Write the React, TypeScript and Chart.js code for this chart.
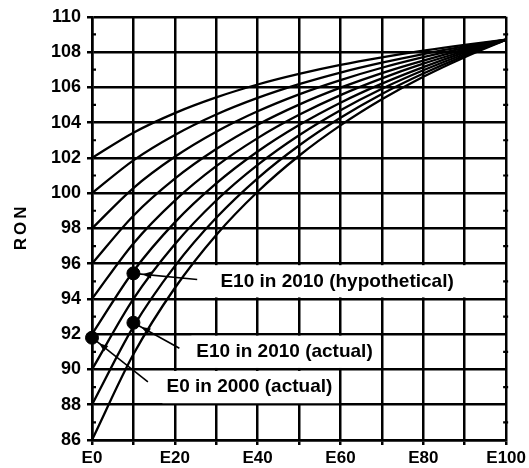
import React, { useEffect, useRef } from "react";
import { Chart, registerables } from "chart.js";

Chart.register(...registerables);

// Ethanol content (vol %) – x categories
const ethanolPct = [0, 10, 20, 30, 40, 50, 60, 70, 80, 90, 100];

// RON curves, one per base-gasoline RON
const ron86 = [86, 90.86, 94.62, 97.63, 100.08, 102.12, 103.84, 105.32, 106.6, 107.71, 108.7];
const ron88 = [88, 92.43, 95.86, 98.6, 100.84, 102.7, 104.27, 105.62, 106.78, 107.8, 108.7];
const ron90 = [90, 94.0, 97.1, 99.58, 101.6, 103.28, 104.7, 105.92, 106.97, 107.89, 108.7];
const ron92 = [92, 95.57, 98.34, 100.55, 102.36, 103.86, 105.13, 106.21, 107.15, 107.98, 108.7];
const ron94 = [94, 97.15, 99.58, 101.53, 103.12, 104.44, 105.56, 106.51, 107.34, 108.06, 108.7];
const ron96 = [96, 98.72, 100.82, 102.5, 103.88, 105.02, 105.98, 106.81, 107.52, 108.15, 108.7];
const ron98 = [98, 100.29, 102.06, 103.48, 104.64, 105.6, 106.41, 107.11, 107.71, 108.24, 108.7];
const ron100 = [100, 101.86, 103.3, 104.46, 105.4, 106.18, 106.84, 107.4, 107.89, 108.32, 108.7];
const ron102 = [102, 103.43, 104.54, 105.43, 106.16, 106.76, 107.27, 107.7, 108.08, 108.41, 108.7];

const curves = [ron86, ron88, ron90, ron92, ron94, ron96, ron98, ron100, ron102];

// Marked points
const markerE = [0, 10, 10];
const markerRON = [91.8, 95.45, 92.65];
const markerLabels = ["E0 in 2000 (actual)", "E10 in 2010 (hypothetical)", "E10 in 2010 (actual)"];

const yAxisTitle = "RON";

// Annotation placement (in data units)
const noteTextE = [18, 31, 25.2];
const noteTextRON = [89.0, 95.0, 91.0];
const noteLeadE = [13.5, 25.4, 21.1];
const noteLeadRON = [89.3, 95.1, 91.2];
const noteBoxFromE = [17, 28.5, 24];
const noteBoxToE = [59.6, 99.6, 69.6];
const noteBoxLowRON = [88, 94, 90];
const noteBoxHighRON = [90, 96, 92];

const FONT = "'Liberation Sans', Arial, sans-serif";

const notesPlugin = {
  id: "notes",
  beforeDatasetsDraw(chart: any) {
    const { ctx, scales, chartArea } = chart;
    const x = scales.x;
    const y = scales.y;
    ctx.save();
    // white label backgrounds hiding the vertical grid lines
    ctx.fillStyle = "#ffffff";
    for (let i = 0; i < markerLabels.length; i++) {
      const x0 = x.getPixelForValue(noteBoxFromE[i]);
      const x1 = x.getPixelForValue(noteBoxToE[i]);
      const yTop = y.getPixelForValue(noteBoxHighRON[i]) + 1.5;
      const yBot = y.getPixelForValue(noteBoxLowRON[i]) - 1.5;
      ctx.fillRect(x0, yTop, x1 - x0, yBot - yTop);
    }
    // minor ticks at odd RON values
    ctx.strokeStyle = "#000";
    ctx.lineWidth = 2.2;
    for (let v = 87; v < 110; v += 2) {
      const py = y.getPixelForValue(v);
      ctx.beginPath();
      ctx.moveTo(chartArea.left, py);
      ctx.lineTo(chartArea.left + 4, py);
      ctx.moveTo(chartArea.right - 3, py);
      ctx.lineTo(chartArea.right + 2, py);
      ctx.stroke();
    }
    // rotated y axis title with wide letter spacing
    ctx.save();
    ctx.translate(21.5, (chartArea.top + chartArea.bottom) / 2);
    ctx.rotate(-Math.PI / 2);
    ctx.font = `bold 17px ${FONT}`;
    try {
      (ctx as any).letterSpacing = "3px";
    } catch (e) {}
    ctx.fillStyle = "#000";
    ctx.textAlign = "center";
    ctx.textBaseline = "middle";
    ctx.fillText(yAxisTitle, 1.5, 0);
    ctx.restore();
    ctx.restore();
  },
  afterDatasetsDraw(chart: any) {
    const { ctx, scales } = chart;
    const x = scales.x;
    const y = scales.y;
    ctx.save();
    ctx.strokeStyle = "#000";
    ctx.fillStyle = "#000";
    ctx.lineWidth = 1.6;
    for (let i = 0; i < markerLabels.length; i++) {
      const sx = x.getPixelForValue(markerE[i]);
      const sy = y.getPixelForValue(markerRON[i]);
      const ex = x.getPixelForValue(noteLeadE[i]);
      const ey = y.getPixelForValue(noteLeadRON[i]);
      ctx.beginPath();
      ctx.moveTo(sx, sy);
      ctx.lineTo(ex, ey);
      ctx.stroke();
      // small arrow head pointing at the dot
      const ang = Math.atan2(sy - ey, sx - ex);
      const d = Math.hypot(sx - ex, sy - ey);
      const tipX = sx - Math.cos(ang) * 9;
      const tipY = sy - Math.sin(ang) * 9;
      const baseX = tipX - Math.cos(ang) * 9;
      const baseY = tipY - Math.sin(ang) * 9;
      if (d > 20) {
        ctx.beginPath();
        ctx.moveTo(tipX, tipY);
        ctx.lineTo(baseX + Math.sin(ang) * 3.5, baseY - Math.cos(ang) * 3.5);
        ctx.lineTo(baseX - Math.sin(ang) * 3.5, baseY + Math.cos(ang) * 3.5);
        ctx.closePath();
        ctx.fill();
      }
      ctx.font = `bold 19px ${FONT}`;
      ctx.textAlign = "left";
      ctx.textBaseline = "middle";
      ctx.fillText(markerLabels[i], x.getPixelForValue(noteTextE[i]), y.getPixelForValue(noteTextRON[i]));
    }
    ctx.restore();
  },
};

export default function App() {
  const ref = useRef<HTMLCanvasElement | null>(null);
  useEffect(() => {
    if (!ref.current) return;
    const datasets: any[] = curves.map((c) => ({
      type: "line",
      data: ethanolPct.map((e, i) => ({ x: e, y: c[i] })),
      borderColor: "#000",
      borderWidth: 2.3,
      pointRadius: 0,
      cubicInterpolationMode: "monotone",
      fill: false,
    }));
    datasets.push({
      type: "scatter",
      data: markerE.map((e, i) => ({ x: e, y: markerRON[i] })),
      backgroundColor: "#000",
      borderColor: "#000",
      pointRadius: 6.5,
      pointHoverRadius: 6.5,
      clip: false,
    });
    const chart = new Chart(ref.current, {
      type: "line",
      data: { datasets },
      plugins: [notesPlugin],
      options: {
        animation: false,
        responsive: false,
        events: [],
        layout: { padding: { top: 16, right: 19, left: 0, bottom: 0 } },
        plugins: { legend: { display: false }, tooltip: { enabled: false } },
        scales: {
          x: {
            type: "linear",
            min: 0,
            max: 100,
            afterFit: (s: any) => {
              s.height = 28;
            },
            ticks: {
              stepSize: 10,
              autoSkip: false,
              maxRotation: 0,
              padding: 3,
              color: "#000",
              font: { family: FONT, weight: "bold", size: 17 },
              callback: (v: any) => (Number(v) % 20 === 0 ? "E" + v : ""),
            },
            grid: { color: "#000", lineWidth: 2.5, tickLength: 5 },
            border: { color: "#000", width: 2.5 },
          },
          y: {
            type: "linear",
            min: 86,
            max: 110,
            afterFit: (s: any) => {
              s.width = 92;
            },
            ticks: {
              stepSize: 2,
              padding: 6,
              color: "#000",
              font: { family: FONT, weight: "bold", size: 18 },
            },
            grid: { color: "#000", lineWidth: 2.5, tickLength: 5 },
            border: { color: "#000", width: 2.5 },
          },
        },
      },
    });
    return () => chart.destroy();
  }, []);
  return (
    <div style={{ position: "fixed", left: 0, top: 0, width: 529, height: 468, background: "#fff" }}>
      <canvas ref={ref} width={529} height={468} style={{ display: "block" }} />
    </div>
  );
}
